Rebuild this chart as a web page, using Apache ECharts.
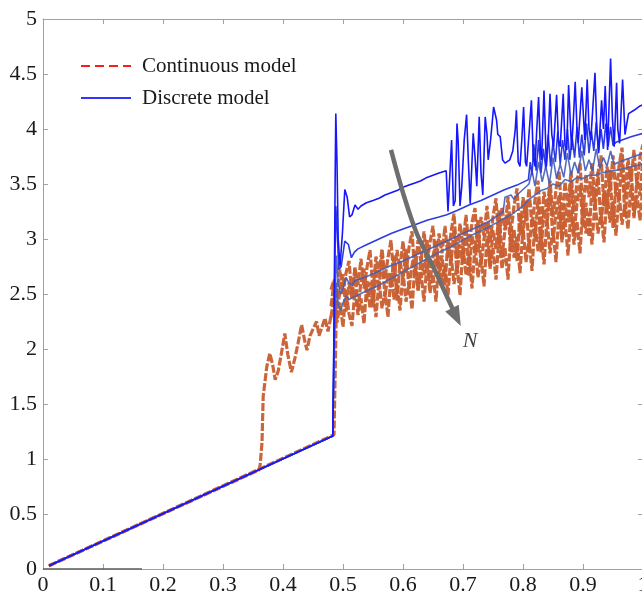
<!DOCTYPE html>
<html><head><meta charset="utf-8">
<script src="https://cdn.jsdelivr.net/npm/echarts@6/dist/echarts.min.js"></script>
<style>html,body{margin:0;padding:0;background:#fff;}#c{width:642px;height:595px;}</style>
</head><body><div id="c"></div>
<script>
// ---- data ----
const bandX = [0.480,0.485,0.490,0.495,0.500,0.505,0.510,0.515,0.520,0.525,
0.530,0.535,0.540,0.545,0.550,0.555,0.560,0.565,0.570,0.575,
0.580,0.585,0.590,0.595,0.600,0.605,0.610,0.615,0.620,0.625,
0.630,0.635,0.640,0.645,0.650,0.655,0.660,0.665,0.670,0.675,
0.680,0.685,0.690,0.695,0.700,0.705,0.710,0.715,0.720,0.725,
0.730,0.735,0.740,0.745,0.750,0.755,0.760,0.765,0.770,0.775,
0.780,0.785,0.790,0.795,0.800,0.805,0.810,0.815,0.820,0.825,
0.830,0.835,0.840,0.845,0.850,0.855,0.860,0.865,0.870,0.875,
0.880,0.885,0.890,0.895,0.900,0.905,0.910,0.915,0.920,0.925,
0.930,0.935,0.940,0.945,0.950,0.955,0.960,0.965,0.970,0.975,
0.980,0.985,0.990,0.995,1.000];
const contUpper = [2.54,2.63,2.51,2.72,2.50,2.69,2.80,2.49,2.74,2.58,
2.82,2.55,2.74,2.90,2.53,2.84,2.68,2.91,2.64,2.83,
2.99,2.61,2.90,2.73,2.98,2.69,2.92,3.07,2.66,2.99,
2.79,3.07,2.78,2.97,3.12,2.74,3.05,2.87,3.12,2.83,
3.06,3.23,2.82,3.14,2.94,3.22,2.92,3.15,3.28,2.87,
3.20,3.03,3.30,2.97,3.20,3.37,2.95,3.29,3.08,3.38,
3.06,3.30,3.46,3.03,3.38,3.16,3.46,3.11,3.36,3.53,
3.08,3.43,3.24,3.53,3.20,3.45,3.62,3.16,3.52,3.29,
3.62,3.25,3.52,3.69,3.24,3.59,3.38,3.69,3.34,3.60,
3.76,3.30,3.66,3.43,3.76,3.39,3.66,3.83,3.38,3.73,
3.52,3.81,3.48,3.75,3.86];
const contMiddle = [2.39,2.60,2.36,2.52,2.68,2.34,2.60,2.46,2.74,2.35,
2.62,2.73,2.44,2.61,2.38,2.73,2.54,2.85,2.47,2.69,
2.56,2.85,2.44,2.79,2.64,2.91,2.54,2.76,2.90,2.53,
2.84,2.67,3.00,2.59,2.84,2.99,2.66,2.85,2.58,2.99,
2.78,3.09,2.68,2.95,2.78,3.11,2.66,3.03,2.88,3.18,
2.76,3.00,3.14,2.75,3.08,2.91,3.26,2.83,3.08,3.23,
2.88,3.09,2.80,3.23,3.02,3.35,2.90,3.19,3.00,3.37,
2.88,3.27,3.12,3.45,2.98,3.24,3.40,2.97,3.32,3.15,
3.52,3.05,3.32,3.49,3.10,3.33,3.02,3.49,3.26,3.61,
3.12,3.43,3.24,3.63,3.10,3.51,3.36,3.71,3.20,3.48,
3.66,3.19,3.56,3.39,3.74];
const contLower = [2.29,2.47,2.24,2.42,2.20,2.54,2.32,2.21,2.54,2.31,
2.46,2.23,2.62,2.37,2.53,2.29,2.62,2.37,2.52,2.29,
2.69,2.45,2.60,2.35,2.70,2.43,2.60,2.36,2.78,2.53,
2.70,2.43,2.78,2.51,2.68,2.43,2.85,2.59,2.76,2.49,
2.86,2.59,2.76,2.49,2.94,2.67,2.86,2.55,2.94,2.65,
2.84,2.57,3.01,2.73,2.92,2.63,3.02,2.73,2.92,2.63,
3.10,2.83,3.02,2.69,3.10,2.79,3.00,2.71,3.17,2.89,
3.08,2.77,3.18,2.87,3.08,2.79,3.26,2.99,3.18,2.85,
3.26,2.95,3.16,2.87,3.33,3.05,3.24,2.95,3.34,3.05,
3.24,2.97,3.42,3.15,3.34,3.03,3.42,3.13,3.32,3.09,
3.49,3.21,3.40,3.17,3.50];
const contEarlyX = [0.010,0.360,0.362,0.365,0.367,0.373,0.378,0.383,0.387,0.392,0.397,0.403,0.408,0.414,0.420,0.425,0.431,0.436,0.440,0.445,0.450,0.456,0.460,0.465,0.470,0.475,0.480];
const contEarlyY = [0.03,0.90,0.95,1.15,1.57,1.84,1.96,1.85,1.72,1.80,1.95,2.14,1.95,1.79,1.92,2.05,2.22,2.08,1.99,2.12,2.18,2.25,2.12,2.20,2.28,2.16,2.30];
const contLateX = [0.010,0.485,0.487,0.489,0.492];
const contLateY = [0.03,1.22,1.80,2.40,2.55];

const disc1X = [0.010,0.483,0.485,0.487,0.488,0.490,0.492,0.495,0.499,0.503,0.507,0.511,0.515,0.520,0.525,0.530,0.539,0.550,0.560,0.570,0.580,0.590,0.600,0.610,0.620,0.630,0.640,0.650,0.660,0.672,
0.675,0.681,0.684,0.687,0.690,0.692,0.695,0.698,0.702,0.706,0.709,0.712,0.717,0.720,0.723,0.727,0.730,0.733,0.737,0.740,0.742,0.746,0.751,0.756,0.758,0.762,0.766,0.770,0.778,0.783,0.787,0.789,0.792,0.795,0.798,0.801,0.804,0.806,0.810,0.814,0.817,0.820,0.823,0.826,0.829,0.831,0.835,0.839,0.842,0.845,0.848,0.851,0.856,0.859,0.862,0.867,0.870,0.873,0.876,0.881,0.884,0.887,0.890,0.892,0.898,0.903,0.907,0.910,0.913,0.920,0.923,0.926,0.931,0.934,0.937,0.941,0.946,0.949,0.952,0.956,0.958,0.961,0.966,0.970,0.973,0.976,0.985,0.995,1.000];
const disc1Y = [0.03,1.21,2.20,3.60,4.14,3.70,3.00,2.75,3.05,3.45,3.38,3.20,3.22,3.31,3.27,3.30,3.33,3.35,3.37,3.40,3.42,3.44,3.47,3.49,3.51,3.53,3.56,3.58,3.60,3.62,
3.25,3.90,3.30,3.35,4.05,3.88,3.30,3.48,3.90,4.13,3.70,3.32,3.96,3.75,3.48,4.11,3.60,3.40,4.11,3.95,3.72,3.90,4.20,4.08,3.95,3.93,3.72,3.69,3.72,3.80,3.99,4.17,3.70,3.66,3.90,4.20,3.70,3.66,3.95,4.26,3.75,3.66,4.00,4.29,3.80,3.72,4.35,3.66,3.90,4.32,3.95,3.84,4.31,3.90,3.84,4.32,3.85,3.81,4.40,3.81,4.10,4.43,4.00,3.87,4.38,3.90,4.45,4.00,3.90,4.51,4.00,3.78,4.26,4.00,4.39,3.81,4.64,4.10,3.84,4.42,4.00,3.87,4.45,3.95,4.05,4.14,4.17,4.21,4.22];
const disc2X = [0.010,0.483,0.486,0.488,0.490,0.493,0.497,0.503,0.509,0.514,0.519,0.525,0.540,0.560,0.580,0.600,0.620,0.640,0.660,0.673,0.690,0.710,0.730,0.750,0.770,0.790,0.809,0.812,
0.815,0.818,0.822,0.826,0.830,0.834,0.838,0.842,0.846,0.850,0.854,0.858,0.862,0.866,0.870,0.874,0.878,0.882,0.886,0.890,0.894,0.898,0.902,0.906,0.910,0.914,0.918,0.922,0.926,0.930,0.934,0.938,0.942,0.946,0.950,0.955,0.965,0.980,1.000];
const disc2Y = [0.03,1.21,2.60,3.30,3.10,2.72,2.75,2.98,2.95,2.83,2.88,2.91,2.95,3.00,3.05,3.09,3.13,3.17,3.20,3.22,3.26,3.31,3.35,3.40,3.45,3.49,3.54,3.70,
3.58,3.86,3.62,3.90,3.60,3.82,3.64,3.95,3.66,3.88,3.70,3.98,3.68,3.90,3.72,4.00,3.72,3.92,3.74,4.02,3.74,3.95,3.76,4.05,3.78,3.98,3.80,4.06,3.80,4.00,3.82,4.05,3.84,4.02,3.85,3.88,3.90,3.93,3.96];
const disc3X = [0.010,0.483,0.486,0.489,0.492,0.496,0.500,0.505,0.510,0.515,0.520,0.540,0.560,0.580,0.600,0.620,0.640,0.660,0.680,0.700,0.720,0.740,0.760,0.767,0.770,0.780,0.785,0.790,0.800,0.810,0.815,0.820,0.826,0.832,0.838,0.844,0.850,0.856,0.862,0.868,0.874,0.880,0.886,0.892,0.898,0.904,0.910,0.916,0.922,0.928,0.934,0.940,0.946,0.952,0.960,0.970,0.985,1.000];
const disc3Y = [0.03,1.21,2.30,2.85,2.60,2.50,2.55,2.65,2.60,2.58,2.62,2.66,2.71,2.76,2.80,2.85,2.90,2.95,3.00,3.05,3.10,3.15,3.22,3.25,3.38,3.40,3.36,3.40,3.45,3.50,3.62,3.48,3.70,3.52,3.66,3.50,3.74,3.55,3.68,3.56,3.78,3.58,3.70,3.60,3.80,3.62,3.72,3.62,3.82,3.64,3.74,3.66,3.80,3.68,3.70,3.72,3.75,3.78];
const disc4X = [0.010,0.483,0.486,0.489,0.492,0.496,0.500,0.505,0.510,0.520,0.540,0.560,0.580,0.600,0.620,0.640,0.660,0.680,0.700,0.720,0.740,0.760,0.780,0.790,0.800,0.810,0.820,0.830,0.840,0.850,0.860,0.870,0.880,0.890,0.900,0.910,0.920,0.930,0.940,0.950,0.960,0.975,1.000];
const disc4Y = [0.03,1.21,2.10,2.60,2.40,2.35,2.42,2.48,2.45,2.48,2.53,2.58,2.64,2.70,2.76,2.82,2.88,2.93,2.99,3.05,3.10,3.16,3.22,3.26,3.30,3.36,3.40,3.44,3.46,3.50,3.48,3.54,3.52,3.56,3.55,3.58,3.58,3.60,3.61,3.62,3.63,3.65,3.68];
const baseX = [0.000,0.165];
const baseY = [0.00,0.00];
const arrowX = [0.580,0.600,0.623,0.650,0.673,0.689];
const arrowY = [3.81,3.42,3.05,2.75,2.48,2.29];
const labelN = {x:0.712, y:2.07, text:'N'};
const legendNames = ['Continuous model','Discrete model'];
// --------------------------------------

const pairs = (xs, ys) => xs.map((x, i) => [x, ys[i]]);
const FONT = "'Liberation Serif','Times New Roman',serif";
const ORANGE = 'rgba(200,94,48,0.95)';
const AX = '#a0a0a0';

function line(data, color, width, type, z, opacity) {
  return {type:'line', data:data, symbol:'none', silent:true, z:z||2,
    lineStyle:{color:color, width:width, type:type||'solid', opacity:opacity==null?1:opacity},
    itemStyle:{color:color}};
}

const arrowData = pairs(arrowX, arrowY).map((p, i, a) => i === a.length - 1
  ? {value:p, symbol:'triangle', symbolSize:[15,20], symbolRotate:-154}
  : {value:p, symbol:'none'});

const DASH = [8,2];
const series = [
  line(pairs(baseX, baseY), '#5a5a5a', 1.5, 'solid', 2),
  line(pairs(contEarlyX, contEarlyY), ORANGE, 3.2, DASH, 3),
  line(pairs(contLateX, contLateY), ORANGE, 3.2, DASH, 3),
  line(pairs(bandX, contLower), ORANGE, 3.2, DASH, 3),
  line(pairs(bandX, contMiddle), ORANGE, 3.2, DASH, 3),
  line(pairs(bandX, contUpper), ORANGE, 3.2, DASH, 3),
  line(pairs(disc4X, disc4Y), 'rgb(72,100,178)', 1.6, 'solid', 4, 0.9),
  line(pairs(disc3X, disc3Y), 'rgb(66,92,185)', 1.6, 'solid', 4, 0.9),
  line(pairs(disc2X, disc2Y), 'rgb(45,60,225)', 1.6, 'solid', 4),
  line(pairs(disc1X, disc1Y), 'rgb(22,22,255)', 1.6, 'solid', 5),
  {type:'line', data:arrowData, smooth:0.35, silent:true, z:6,
   lineStyle:{color:'#6e6e6e', width:4.5}, itemStyle:{color:'#6e6e6e'}},
  {type:'scatter', data:[[labelN.x, labelN.y]], symbolSize:1, silent:true, z:6,
   itemStyle:{color:'rgba(0,0,0,0)'},
   label:{show:true, position:'inside', formatter:labelN.text, fontFamily:FONT,
     fontStyle:'italic', fontSize:22, color:'#111'}},
  {name:legendNames[0], type:'line', data:[], symbol:'none', color:'#ff1a1a',
   lineStyle:{color:'#ff1a1a', width:2.5, type:[9,5]}},
  {name:legendNames[1], type:'line', data:[], symbol:'none', color:'#3434ff',
   lineStyle:{color:'#3434ff', width:1.6}}
];

const axisCommon = {
  type:'value', splitLine:{show:false},
  axisLine:{show:true, onZero:false, lineStyle:{color:AX, width:1}},
  axisTick:{show:true, inside:true, length:5, lineStyle:{color:AX}}
};
const labelStyle = {fontFamily:FONT, fontSize:22, color:'#1a1a1a'};

const chart = echarts.init(document.getElementById('c'), null, {renderer:'canvas'});
chart.setOption({
  animation:false,
  backgroundColor:'#fff',
  grid:{left:43, top:19, width:600, height:550, containLabel:false, outerBoundsMode:'none'},
  legend:{data:legendNames, orient:'vertical', left:80, top:54, padding:0, itemWidth:50, itemHeight:14,
    itemGap:8, selectedMode:false, itemStyle:{opacity:0},
    textStyle:{fontFamily:FONT, fontSize:21, color:'#1a1a1a', padding:[0,0,0,6], lineHeight:24}},
  xAxis:[
    Object.assign({}, axisCommon, {min:0, max:1, interval:0.1, position:'bottom',
      axisLabel:Object.assign({margin:5}, labelStyle)}),
    Object.assign({}, axisCommon, {min:0, max:1, interval:0.1, position:'top', axisLabel:{show:false}})
  ],
  yAxis:[
    Object.assign({}, axisCommon, {min:0, max:5, interval:0.5, position:'left',
      axisLabel:Object.assign({margin:6}, labelStyle)}),
    Object.assign({}, axisCommon, {min:0, max:5, interval:0.5, position:'right', axisLabel:{show:false}})
  ],
  series:series
});
</script></body></html>
